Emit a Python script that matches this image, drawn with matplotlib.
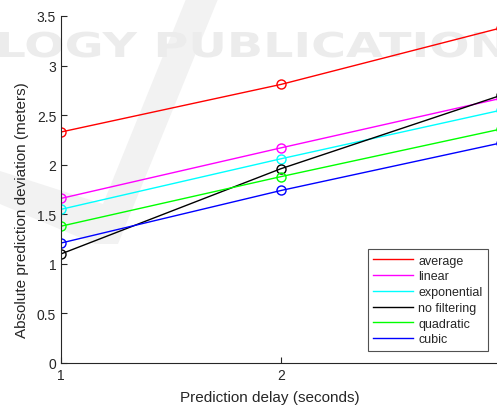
import matplotlib
matplotlib.use("Agg")
import matplotlib.pyplot as plt
from matplotlib.textpath import TextPath
from matplotlib.font_manager import FontProperties
from matplotlib.patches import PathPatch, Polygon
from matplotlib.transforms import Affine2D

plt.rcParams['font.family'] = ['Liberation Sans', 'DejaVu Sans']

delays = [1, 2, 3]
series_names = ['average', 'linear', 'exponential', 'no filtering', 'quadratic', 'cubic']
average = [2.33, 2.81, 3.38]
linear = [1.66, 2.17, 2.67]
exponential = [1.55, 2.06, 2.55]
no_filtering = [1.10, 1.96, 2.70]
quadratic = [1.38, 1.88, 2.36]
cubic = [1.21, 1.74, 2.22]

colors = ['#ff0000', '#ff00ff', '#00ffff', '#000000', '#00ff00', '#0000ff']
values = [average, linear, exponential, no_filtering, quadratic, cubic]

W, H = 497, 406
fig = plt.figure(figsize=(W / 100, H / 100), dpi=100)
# axes run a bit past the right edge, like the cropped original
ax = fig.add_axes([61 / W, 42 / H, 440 / W, 347 / H])

# faint publisher watermark behind everything (pixel coords from top-left)
px = Affine2D().scale(1 / W, -1 / H).translate(0, 1) + fig.transFigure
tp = TextPath((0, 0), 'LOGY PUBLICATION', size=1,
              prop=FontProperties(family='DejaVu Sans', weight='bold'))
ext = tp.get_extents()
sx = 505 / ext.width
sy = 25 / 0.73
wm_tr = Affine2D().translate(-ext.x0, 0).scale(sx, -sy).translate(0, 58) + px
fig.patches.append(PathPatch(tp, transform=wm_tr, fc='#ececec', ec='none', zorder=-2))
vshape = [(0, 172), (0, 205), (95, 245), (118, 245), (218, 0), (186, 0), (103, 205)]
fig.patches.append(Polygon(vshape, closed=True, transform=px, fc='#f2f2f2', ec='none', zorder=-3))

for name, vals, c in zip(series_names, values, colors):
    ax.plot(delays, vals, color=c, lw=1.0, marker='o', ms=6.5, mfc='none',
            mec=c, mew=1.0, label=name)

ax.set_xlim(1, 3)
ax.set_ylim(0, 3.5)
ax.set_xticks([1, 2, 3])
ax.set_yticks([0, 0.5, 1, 1.5, 2, 2.5, 3, 3.5])
ax.set_yticklabels(['0', '0.5', '1', '1.5', '2', '2.5', '3', '3.5'])
ax.tick_params(direction='in', length=4, labelsize=10, colors='#262626')
for s in ('left', 'bottom'):
    ax.spines[s].set_color('#262626')
ax.spines['top'].set_visible(False)
ax.spines['right'].set_visible(False)
ax.patch.set_alpha(0)
ax.set_xlabel('Prediction delay (seconds)', fontsize=11, color='#262626')
ax.set_ylabel('Absolute prediction deviation (meters)', fontsize=11, color='#262626')
ax.xaxis.set_label_coords((270 - 61) / 440, (364 - 391) / 347)
ax.yaxis.set_label_coords((29 - 61) / 440, (364 - 210) / 347)

leg = ax.legend(loc='lower right', bbox_to_anchor=((488 - 61) / 440, (364 - 352) / 347),
                borderaxespad=0, fontsize=9, frameon=True, fancybox=False,
                handlelength=3.2, labelspacing=0.3, borderpad=0.45, handletextpad=0.4)
leg.get_frame().set_edgecolor('#262626')
leg.get_frame().set_linewidth(0.8)
for t in leg.get_texts():
    t.set_color('#262626')
for h in leg.legend_handles:
    h.set_marker('')

fig.savefig('out.png', dpi=100)
